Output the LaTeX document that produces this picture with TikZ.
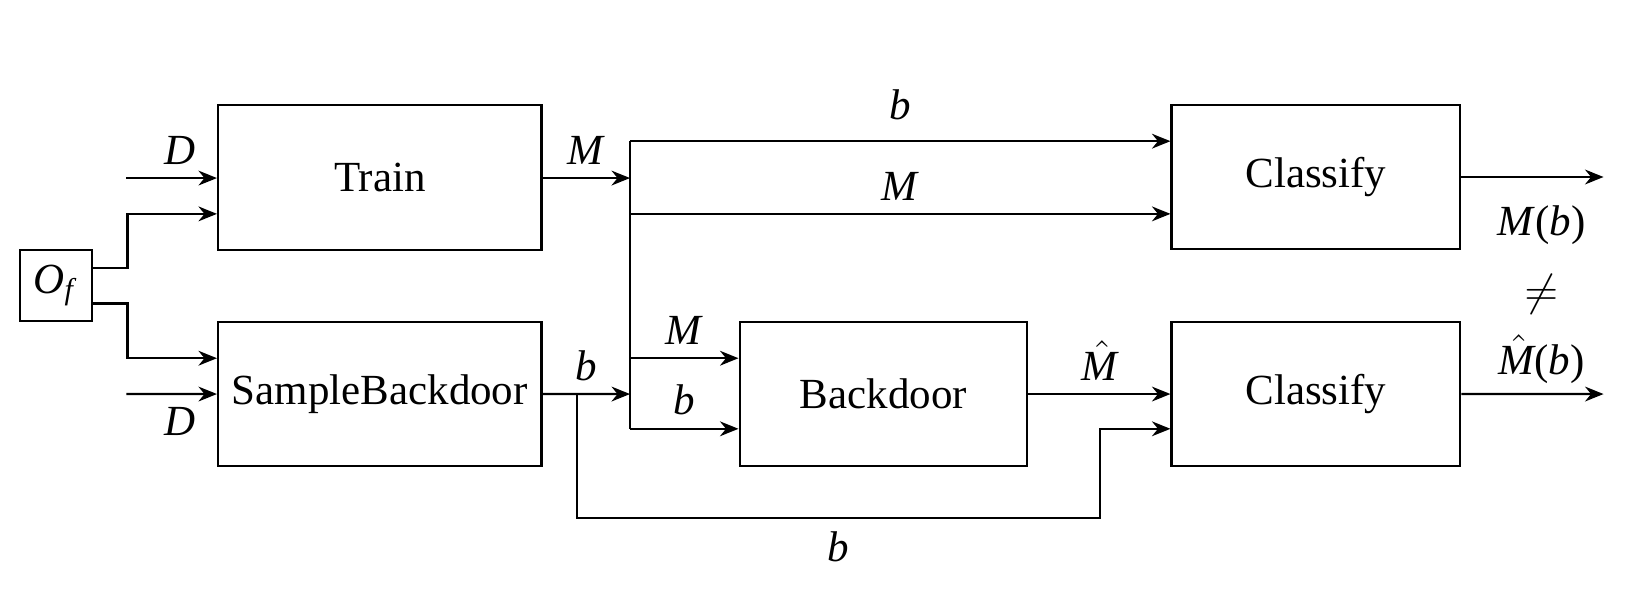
\documentclass[tikz,border=0pt]{standalone}
\usepackage{fontspec}
\setmainfont{Liberation Serif}
\usetikzlibrary{positioning,arrows.meta}

\newcommand{\vname}[1]{\textit{#1}}
\newcommand{\vhat}{$\skew{2}\hat{\vname{M}}$}

\tikzstyle{box} = [rectangle, minimum width=3.07cm, minimum height=1.37cm, text centered, draw=black, semithick]
\tikzstyle{box-s} = [rectangle, minimum width=0.68cm, minimum height=0.68cm, inner sep=0pt, text centered, draw=black, semithick]
\tikzstyle{box-nb} = [rectangle, text centered]
\tikzstyle{arrow} = [semithick,->,>={Stealth[length=5pt,width=4pt]}]
\tikzstyle{line} = [semithick]

\begin{document}
\begin{tikzpicture}[font=\fontsize{11.6}{14}\selectfont]
  \useasboundingbox (0,0) rectangle (15.68,-5.83);

  \node (train) [box] at (3.605,-1.685) {Train};
  \node (sample) [box, below of=train, yshift=-1.055cm] {SampleBackdoor};
  \node (of) [box-s, left of=train, xshift=-2.075cm, yshift=-1.025cm] {\vname{O}\textsubscript{\vname{f}}};
  \node (backdoor) [box, minimum width=2.73cm, right of=sample, xshift=3.78cm] {Backdoor};
  \node (classB) [box, minimum width=2.74cm, right of=backdoor, xshift=3.105cm] {Classify};
  \node (classA) [box, minimum width=2.74cm, above of=classB, yshift=1.06cm] {Classify};
  \node (res_a) [box-nb] at (14.63,-2.14) {\vname{M}(\vname{b})};
  \node (neq) [box-nb] at (14.63,-2.79) {$\neq$};
  \node (res_b) [box-nb] at (14.63,-3.41) {\vhat(\vname{b})};

  \coordinate (din_top) at (1.20,-1.69);
  \coordinate (din_bot) at (1.20,-3.74);
  \coordinate (bus_m) at (5.98,-1.69);
  \coordinate (bus_top) at (5.98,-1.34);
  \coordinate (bus_mid) at (5.98,-2.03);
  \coordinate (bus_bm) at (5.98,-3.40);
  \coordinate (bus_b) at (5.98,-3.74);
  \coordinate (bus_bot) at (5.98,-4.07);
  \coordinate (split) at (5.48,-3.74);
  \coordinate (low) at (10.44,-4.92);
  \coordinate (out_a) at (15.22,-1.68);
  \coordinate (out_b) at (15.22,-3.74);

  \draw [arrow] (din_top) -- node [above, xshift=0.08cm] {\vname{D}} (train.west |- din_top);
  \draw [arrow] ([yshift=1.7mm]of.east) -- ++(0.33,0) |- ([yshift=-3.45mm]train.west);
  \draw [arrow] ([yshift=-1.7mm]of.east) -- ++(0.33,0) |- ([yshift=3.4mm]sample.west);
  \draw [arrow] (din_bot) -- node [below, xshift=0.08cm] {\vname{D}} (sample.west);
  \draw [arrow] (train.east |- bus_m) -- node [above] {\vname{M}} (bus_m);
  \draw [line] (bus_top) -- (bus_bot);
  \draw [arrow] (bus_top) -- node [above, yshift=0.07cm] {\vname{b}} (bus_top -| classA.west);
  \draw [arrow] (bus_mid) -- node [above] {\vname{M}} (bus_mid -| classA.west);
  \draw [arrow] (bus_bm) -- node [above] {\vname{M}} (bus_bm -| backdoor.west);
  \draw [arrow] (bus_bot) -- node [above] {\vname{b}} (bus_bot -| backdoor.west);
  \draw [arrow] (sample.east) -- node [above] {\vname{b}} (bus_b);
  \draw [arrow] (split) |- node [below, pos=0.75] {\vname{b}} (low) |- ([yshift=-3.3mm]classB.west);
  \draw [arrow] (backdoor) -- node [above] {\vhat} (classB);
  \draw [arrow] (classA.east |- out_a) -- (out_a);
  \draw [arrow] (classB) -- (out_b);
\end{tikzpicture}
\end{document}
